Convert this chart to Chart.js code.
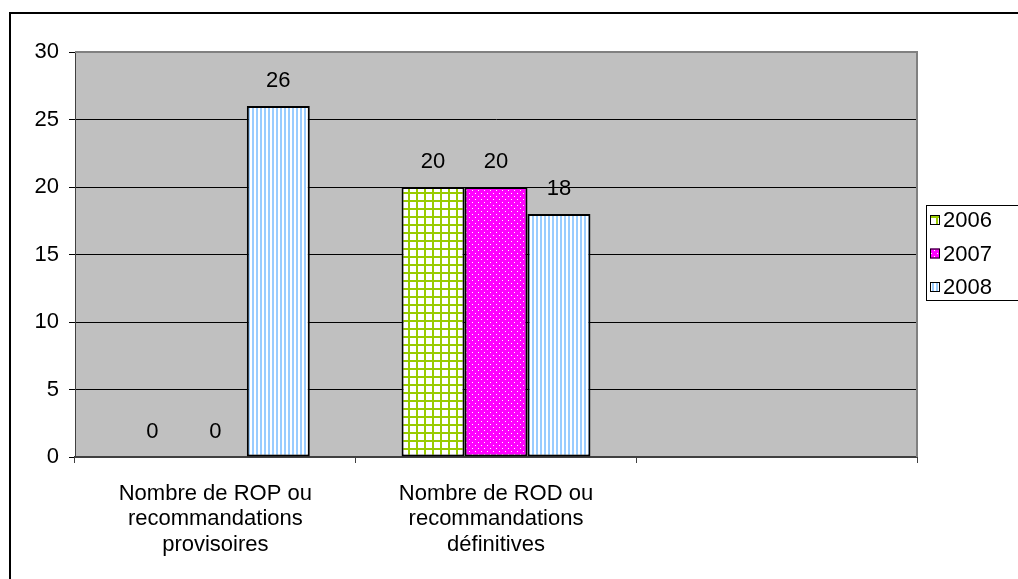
<!DOCTYPE html>
<html>
<head>
<meta charset="utf-8">
<script src="https://cdn.jsdelivr.net/npm/chart.js@4/dist/chart.umd.min.js"></script>
<style>
  html, body { margin: 0; padding: 0; background: #fff; overflow: hidden; }
  #wrap { position: relative; width: 1018px; height: 579px; }
  #frame { position: absolute; left: 9px; top: 12px; width: 1100px; height: 700px;
           border: 2px solid #000; pointer-events: none; }
</style>
</head>
<body>
<div id="wrap">
  <canvas id="chart" width="1018" height="579"></canvas>
  <div id="frame"></div>
</div>
<script>
// Categories (third slot is intentionally empty)
const categories = [
  ['Nombre de ROP ou', 'recommandations', 'provisoires'],
  ['Nombre de ROD ou', 'recommandations', 'définitives'],
  ''
];
const seriesLabels = ['2006', '2007', '2008'];
const values2006 = [0, 20, null];
const values2007 = [0, 20, null];
const values2008 = [26, 18, null];
const yTicks = [0, 5, 10, 15, 20, 25, 30];

const FONT = '"Liberation Sans", Arial, sans-serif';
const FS = 22;

// Fill patterns for the three series
function makePattern(kind) {
  const c = document.createElement('canvas');
  const g = c.getContext('2d');
  if (kind === 'grid') {
    c.width = 8; c.height = 8;
    g.fillStyle = '#ffffff'; g.fillRect(0, 0, 8, 8);
    g.fillStyle = '#99cc00';
    g.fillRect(0, 0, 8, 2);
    g.fillRect(0, 0, 2, 8);
  } else if (kind === 'dots') {
    c.width = 6; c.height = 6;
    g.fillStyle = '#ff00ff'; g.fillRect(0, 0, 6, 6);
    g.fillStyle = '#ffffff';
    g.fillRect(1, 1, 1, 1);
    g.fillRect(4, 4, 1, 1);
  } else {
    c.width = 4; c.height = 4;
    g.fillStyle = '#ffffff'; g.fillRect(0, 0, 4, 4);
    g.fillStyle = '#99ccff'; g.fillRect(0, 0, 2, 4);
  }
  return g.createPattern(c, 'repeat');
}
const fills = [makePattern('grid'), makePattern('dots'), makePattern('stripes')];

// Gray plot background and plot frame
const plotBackground = {
  id: 'plotBackground',
  beforeDraw(chart) {
    const { ctx, chartArea: a } = chart;
    ctx.save();
    ctx.fillStyle = '#c0c0c0';
    ctx.fillRect(a.left, a.top, a.right - a.left, a.bottom - a.top);
    ctx.restore();
  },
  afterDraw(chart) {
    const { ctx, chartArea: a } = chart;
    ctx.save();
    ctx.strokeStyle = '#808080';
    ctx.lineWidth = 2;
    ctx.beginPath();
    ctx.moveTo(a.left, a.top);
    ctx.lineTo(a.right, a.top);
    ctx.lineTo(a.right, a.bottom);
    ctx.stroke();
    ctx.restore();
  }
};

// Value labels above each bar
const valueLabels = {
  id: 'valueLabels',
  afterDatasetsDraw(chart) {
    const { ctx } = chart;
    ctx.save();
    ctx.fillStyle = '#000';
    ctx.font = FS + 'px ' + FONT;
    ctx.textAlign = 'center';
    ctx.textBaseline = 'middle';
    chart.data.datasets.forEach((ds, i) => {
      const meta = chart.getDatasetMeta(i);
      meta.data.forEach((el, j) => {
        const v = ds.data[j];
        if (v === null || v === undefined) return;
        ctx.fillText(String(v), el.x, el.y - 25);
      });
    });
    ctx.restore();
  }
};

// Boxed legend on the right
const boxLegend = {
  id: 'boxLegend',
  afterDraw(chart) {
    const { ctx } = chart;
    const left = 926, top = 205, w = 110, h = 95;
    ctx.save();
    ctx.strokeStyle = '#000';
    ctx.lineWidth = 1;
    ctx.strokeRect(left + 0.5, top + 0.5, w, h);
    ctx.font = FS + 'px ' + FONT;
    ctx.textBaseline = 'middle';
    ctx.textAlign = 'left';
    chart.data.datasets.forEach((ds, i) => {
      const cy = top + 15 + i * 33.5;
      ctx.fillStyle = ds.backgroundColor;
      ctx.fillRect(930, cy - 5, 10, 10);
      ctx.strokeStyle = '#000';
      ctx.lineWidth = 1;
      ctx.strokeRect(930.5, cy - 4.5, 9, 9);
      ctx.fillStyle = '#000';
      ctx.fillText(ds.label, 943, cy + 1);
    });
    ctx.restore();
  }
};

const seriesValues = [values2006, values2007, values2008];

new Chart(document.getElementById('chart'), {
  type: 'bar',
  data: {
    labels: categories,
    datasets: seriesLabels.map((lab, i) => ({
      label: lab,
      data: seriesValues[i],
      backgroundColor: fills[i],
      borderColor: '#000',
      borderWidth: c => (c.raw ? 2 : 0),
      borderSkipped: false,
      categoryPercentage: 0.673,
      barPercentage: 1.0
    }))
  },
  options: {
    responsive: false,
    devicePixelRatio: 1,
    animation: false,
    layout: { padding: { left: 0, top: 52, right: 101, bottom: 0 } },
    plugins: {
      legend: { display: false },
      tooltip: { enabled: false }
    },
    scales: {
      x: {
        offset: true,
        grid: {
          offset: true,
          drawOnChartArea: false,
          drawTicks: true,
          tickLength: 6,
          tickColor: '#404040'
        },
        border: { display: true, color: '#404040', width: 2 },
        ticks: {
          color: '#000',
          font: { family: FONT, size: FS, lineHeight: 1.16 },
          padding: 18,
          maxRotation: 0,
          autoSkip: false
        },
        afterFit(s) { s.height = 122; }
      },
      y: {
        min: 0,
        max: 30,
        afterBuildTicks(s) { s.ticks = yTicks.map(v => ({ value: v })); },
        grid: {
          color: c => (c.tick && c.tick.value === 30 ? '#808080' : '#000'),
          tickColor: '#000',
          tickLength: 6,
          lineWidth: 1
        },
        border: { display: true, color: '#404040', width: 1 },
        ticks: {
          color: '#000',
          font: { family: FONT, size: FS },
          padding: 10
        },
        afterFit(s) { s.width = 75; }
      }
    }
  },
  plugins: [plotBackground, valueLabels, boxLegend]
});
</script>
</body>
</html>
